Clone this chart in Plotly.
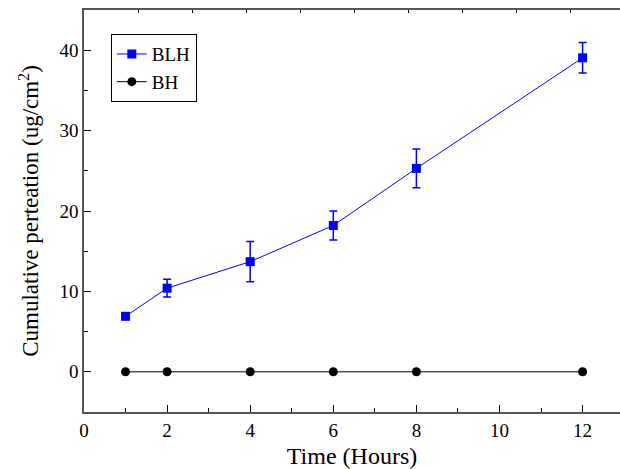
import plotly.graph_objects as go

hours = [1, 2, 4, 6, 8, 12]
blh = [6.9, 10.4, 13.7, 18.2, 25.3, 39.05]
blh_err = [0.3, 1.1, 2.5, 1.8, 2.4, 1.9]
bh = [0, 0, 0, 0, 0, 0]

FONT = "Liberation Serif"
AX = "#555555"

fig = go.Figure()
fig.add_trace(go.Scatter(
    x=hours, y=blh, name="BLH", mode="lines+markers",
    line=dict(color="#0000ff", width=1),
    marker=dict(symbol="square", size=9, color="#0000ff"),
    error_y=dict(type="data", array=blh_err, color="#0000ff", thickness=1.5, width=4),
))
fig.add_trace(go.Scatter(
    x=hours, y=bh, name="BH", mode="lines+markers",
    line=dict(color="#000000", width=1),
    marker=dict(symbol="circle", size=9, color="#000000"),
))
fig.add_trace(go.Scatter(x=[0], y=[0], xaxis="x2", mode="markers",
                         marker=dict(opacity=0), showlegend=False, hoverinfo="skip"))

fig.update_layout(
    width=620, height=469,
    margin=dict(l=84, r=0, t=10, b=57),
    plot_bgcolor="white", paper_bgcolor="white",
    font=dict(family=FONT, size=19, color="black"),
    showlegend=True,
    legend=dict(x=0.05, y=0.94, xanchor="left", yanchor="top",
                bordercolor="black", borderwidth=1, bgcolor="white",
                font=dict(family=FONT, size=19), tracegroupgap=0),
    xaxis=dict(
        range=[0, 12.9], tickmode="linear", tick0=0, dtick=2,
        ticks="inside", ticklen=7, tickwidth=1, tickcolor="black",
        minor=dict(ticks="inside", dtick=1, ticklen=4, tickcolor="black"),
        showline=True, linecolor=AX, linewidth=1.5, showgrid=False, zeroline=False,
        title=dict(text="Time (Hours)", font=dict(family=FONT, size=24), standoff=10),
        tickfont=dict(family=FONT, size=19),
    ),
    xaxis2=dict(
        overlaying="x", side="top", anchor="y", range=[0, 12.9],
        tickmode="linear", tick0=0, dtick=1.3, ticks="inside", ticklen=3,
        tickcolor="black", showticklabels=False,
        showline=True, linecolor=AX, linewidth=1.5, showgrid=False, zeroline=False,
    ),
    yaxis=dict(
        range=[-5, 45], tickmode="linear", tick0=0, dtick=10,
        ticks="inside", ticklen=7, tickwidth=1, tickcolor="black",
        minor=dict(ticks="inside", dtick=5, ticklen=4, tickcolor="black"),
        showline=True, linecolor=AX, linewidth=1.5, showgrid=False, zeroline=False,
        title=dict(text="Cumulative perteation (ug/cm<sup>2</sup>)",
                   font=dict(family=FONT, size=23), standoff=14),
        tickfont=dict(family=FONT, size=19),
    ),
)

fig.write_html("out.html", config={"displayModeBar": False},
               post_script="document.body.style.margin='0';document.body.style.overflow='hidden';")
